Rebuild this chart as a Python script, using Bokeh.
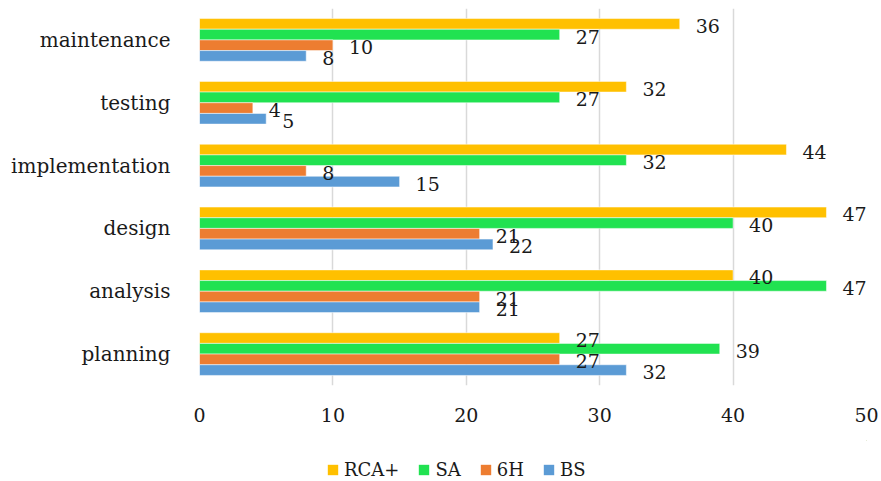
from bokeh.plotting import figure
from bokeh.layouts import column
from bokeh.models import ColumnDataSource, FactorRange, Range1d, FixedTicker, Legend, LegendItem
from bokeh.transform import dodge
from bokeh.core.properties import value
from bokeh.embed import file_html
from bokeh.resources import INLINE

categories = ["planning", "analysis", "design", "implementation", "testing", "maintenance"]
bs = [32, 21, 22, 15, 5, 8]
h6 = [27, 21, 21, 8, 4, 10]
sa = [39, 47, 40, 32, 27, 27]
rca = [27, 40, 47, 44, 32, 36]
series_names = ["RCA+", "SA", "6H", "BS"]
x_ticks = [0, 10, 20, 30, 40, 50]

colors = {"RCA+": "#FFC000", "SA": "#21E251", "6H": "#ED7D31", "BS": "#5B9BD5"}
offsets = {"RCA+": 0.255, "SA": 0.085, "6H": -0.085, "BS": -0.255}
values = {"RCA+": rca, "SA": sa, "6H": h6, "BS": bs}

FONT = "DejaVu Serif"

p = figure(frame_width=667, frame_height=377, y_range=FactorRange(*categories), x_range=Range1d(0, 50),
           output_backend="svg", toolbar_location=None,
           min_border_left=199, min_border_right=14, min_border_top=8, min_border_bottom=55)
p.outline_line_color = None
p.background_fill_color = "white"
p.border_fill_color = "white"

data = dict(cat=categories)
for k, v in values.items():
    data[k] = v
    data[k + "_txt"] = [str(x) for x in v]
src = ColumnDataSource(data)

for name in series_names:
    p.hbar(y=dodge("cat", offsets[name], range=p.y_range), right=name, left=0, height=0.17,
           source=src, fill_color=colors[name], line_color="white", line_alpha=0.5, line_width=1)
for name in series_names:
    p.text(x=name, y=dodge("cat", offsets[name], range=p.y_range), text=name + "_txt",
           source=src, x_offset=16, y_offset=2, text_baseline="middle", text_align="left",
           text_font=value(FONT), text_font_size="19px", text_color="#1a1a1a")

p.xgrid.grid_line_color = "#d9d9d9"
p.xgrid.grid_line_width = 1.5
p.ygrid.grid_line_color = None
p.xaxis.ticker = FixedTicker(ticks=x_ticks)
for ax in (p.xaxis, p.yaxis):
    ax.axis_line_color = None
    ax.major_tick_line_color = None
    ax.minor_tick_line_color = None
    ax.major_label_text_font = FONT
    ax.major_label_text_color = "#1a1a1a"
p.xaxis.major_label_text_font_size = "19px"
p.xaxis.major_label_standoff = 16
p.yaxis.major_label_text_font_size = "20px"
p.yaxis.major_label_standoff = 23

# legend in its own strip below the chart (swatch renderers sit outside the visible range)
lf = figure(width=880, height=41, x_range=Range1d(0, 1), y_range=Range1d(0, 1),
            output_backend="svg", toolbar_location=None,
            min_border_left=0, min_border_right=0, min_border_top=0, min_border_bottom=0)
lf.axis.visible = False
lf.grid.visible = False
lf.outline_line_color = None
items = []
for name in series_names:
    r = lf.hbar(y=[5], right=[6], left=[5], height=0.5, fill_color=colors[name], line_color=None)
    items.append(LegendItem(label=name, renderers=[r]))
legend = Legend(items=items, orientation="horizontal", location=(127, 1),
                glyph_width=13, glyph_height=13, label_standoff=5, spacing=18,
                label_text_font=FONT, label_text_font_size="18px", label_text_color="#1a1a1a",
                border_line_color=None, background_fill_alpha=0, margin=0, padding=0)
lf.add_layout(legend, "center")

layout = column(p, lf, spacing=0)
open("out.html", "w").write(file_html(layout, INLINE))
